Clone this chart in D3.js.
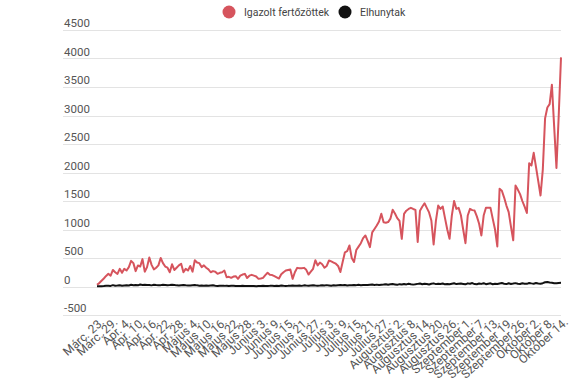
<!DOCTYPE html>
<html>
<head>
<meta charset="utf-8">
<script src="https://cdn.jsdelivr.net/npm/d3@7"></script>
<style>
  body { margin: 0; background: #fff; }
  svg { display: block; font-family: Roboto, "Noto Sans", sans-serif; }
</style>
</head>
<body>
<svg width="575" height="387"></svg>
<script>
var svg = d3.select("svg"),
    width = 575,
    height = 387;

// x tick labels, one for every 6th day (Sep 25 is missing from the data)
var tickLabels = ["Márc. 23.", "Márc. 29.", "Ápr. 4.", "Ápr. 10.", "Ápr. 16.", "Ápr. 22.", "Ápr. 28.",
  "Május 4.", "Május 10.", "Május 16.", "Május 22.", "Május 28.",
  "Június 3.", "Június 9.", "Június 15.", "Június 21.", "Június 27.",
  "Július 3.", "Július 9.", "Július 15.", "Július 21.", "Július 27.",
  "Augusztus 2.", "Augusztus 8.", "Augusztus 14.", "Augusztus 20.", "Augusztus 26.",
  "Szeptember 1.", "Szeptember 7.", "Szeptember 13.", "Szeptember 19.", "Szeptember 26.",
  "Október 2.", "Október 8.", "Október 14."];

var yTicks = [-500, 0, 500, 1000, 1500, 2000, 2500, 3000, 3500, 4000, 4500];

var seriesNames = ["Igazolt fertőzöttek", "Elhunytak"];
var seriesColors = ["#d6545d", "#111111"];

// daily confirmed cases, Márc. 23 -> Október 14
var cases = [
  30, 60, 100, 140, 185, 222, 190,
  290, 250, 220, 310, 240, 310, 280,
  340, 450, 410, 270, 370, 350, 480,
  260, 340, 510, 380, 300, 330, 370,
  500, 410, 350, 330, 250, 390, 290,
  330, 370, 400, 250, 310, 280, 360,
  260, 460, 420, 410, 340, 370, 330,
  300, 250, 270, 260, 222, 240, 250,
  280, 163, 170, 152, 175, 181, 134,
  190, 210, 222, 150, 190, 205, 190,
  175, 134, 140, 152, 200, 240, 205,
  200, 181, 160, 140, 215, 251, 280,
  290, 300, 134, 250, 327, 320, 320,
  327, 292, 210, 260, 310, 460, 370,
  420, 390, 330, 360, 456, 440, 420,
  400, 360, 255, 430, 600, 620, 720,
  500, 430, 640, 700, 760, 850, 895,
  800, 690, 950, 1010, 1070, 1140, 1275,
  1128, 1120, 1130, 1190, 1345, 1280, 1200,
  1150, 836, 1275, 1330, 1360, 1380, 1360,
  1345, 780, 1330, 1400, 1460, 1380, 1300,
  1158, 737, 1150, 1420, 1362, 1403, 1200,
  1000, 836, 1245, 1500, 1362, 1380, 1250,
  1000, 760, 1245, 1362, 1340, 1333, 1230,
  1100, 895, 1245, 1380, 1380, 1380, 1187,
  1000, 702, 1713, 1680, 1560, 1420, 1304,
  1050, 810, 1770, 1700, 1620, 1500, 1400,
  1290, 2163, 2122, 2345, 2100, 1850, 1596,
  2050, 2950, 3140, 3200, 3540, 2800, 2080,
  3000, 4020
];

// daily deaths
var deaths = [
  3, 5, 6, 8, 12, 14, 10,
  24, 14, 16, 22, 14, 18, 20,
  17, 30, 22, 25, 20, 35, 28,
  30, 25, 28, 20, 31, 26, 22,
  24, 30, 28, 22, 25, 32, 27,
  20, 18, 22, 26, 20, 18, 16,
  22, 28, 20, 15, 18, 14, 17,
  12, 16, 20, 14, 10, 15, 12,
  11, 14, 9, 12, 15, 10, 8,
  9, 12, 10, 8, 11, 7, 9,
  6, 10, 8, 12, 9, 7, 11,
  13, 9, 14, 10, 16, 12, 10,
  12, 15, 18, 14, 13, 17, 11,
  20, 16, 14, 19, 22, 18, 15,
  17, 20, 16, 24, 19, 14, 21,
  18, 22, 25, 20, 26, 19, 23,
  21, 27, 24, 30, 23, 28, 26,
  25, 30, 35, 28, 33, 26, 30,
  34, 40, 31, 38, 42, 36, 29,
  41, 35, 44, 37, 48, 39, 33,
  38, 46, 52, 40, 49, 44, 36,
  47, 55, 42, 50, 45, 53, 38,
  44, 40, 49, 56, 42, 47, 51,
  45, 38, 55, 48, 60, 43, 40,
  52, 46, 58, 41, 50, 55, 39,
  47, 44, 53, 60, 49, 42, 57,
  45, 51, 59, 48, 43, 56, 50,
  47, 62, 55, 49, 60, 52, 48,
  58, 75, 80, 70, 66, 58, 56,
  62, 64
];

var x = d3.scaleLinear()
    .domain([0, cases.length - 1])
    .range([97, 561]);

var y = d3.scaleLinear()
    .domain([-500, 4500])
    .range([315, 30]);

// grid + y labels
var grid = svg.append("g");
grid.selectAll("line")
    .data(yTicks)
    .enter().append("line")
    .attr("x1", 63)
    .attr("x2", 561)
    .attr("y1", function(d) { return Math.round(y(d)) + 0.5; })
    .attr("y2", function(d) { return Math.round(y(d)) + 0.5; })
    .attr("stroke", "#e3e3e3")
    .attr("stroke-width", 1);

grid.selectAll("text")
    .data(yTicks)
    .enter().append("text")
    .attr("x", 64)
    .attr("y", function(d) { return y(d) - 3; })
    .attr("font-size", 11.5)
    .attr("fill", "#555")
    .text(function(d) { return d; });

// x labels
var xAxis = svg.append("g");
xAxis.selectAll("text")
    .data(tickLabels)
    .enter().append("text")
    .attr("transform", function(d, i) {
        return "translate(" + (x(i * 6) + 5) + ",320) rotate(-42)";
    })
    .attr("text-anchor", "end")
    .attr("dy", "0.35em")
    .attr("font-size", 12)
    .attr("fill", "#555")
    .text(function(d) { return d; });

var line = d3.line()
    .x(function(d, i) { return x(i); })
    .y(function(d) { return y(d); });

svg.append("path")
    .datum(cases)
    .attr("d", line)
    .attr("fill", "none")
    .attr("stroke", seriesColors[0])
    .attr("stroke-width", 2)
    .attr("stroke-linejoin", "round");

svg.append("path")
    .datum(deaths)
    .attr("d", line)
    .attr("fill", "none")
    .attr("stroke", seriesColors[1])
    .attr("stroke-width", 2)
    .attr("stroke-linejoin", "round");

// legend
var legendX = [229, 345];
var legend = svg.append("g");
seriesNames.forEach(function(name, i) {
    legend.append("circle")
        .attr("cx", legendX[i])
        .attr("cy", 12)
        .attr("r", 6.5)
        .attr("fill", seriesColors[i]);
    legend.append("text")
        .attr("x", legendX[i] + 15)
        .attr("y", 16)
        .attr("font-size", 10.5)
        .attr("fill", "#444")
        .text(name);
});
</script>
</body>
</html>
